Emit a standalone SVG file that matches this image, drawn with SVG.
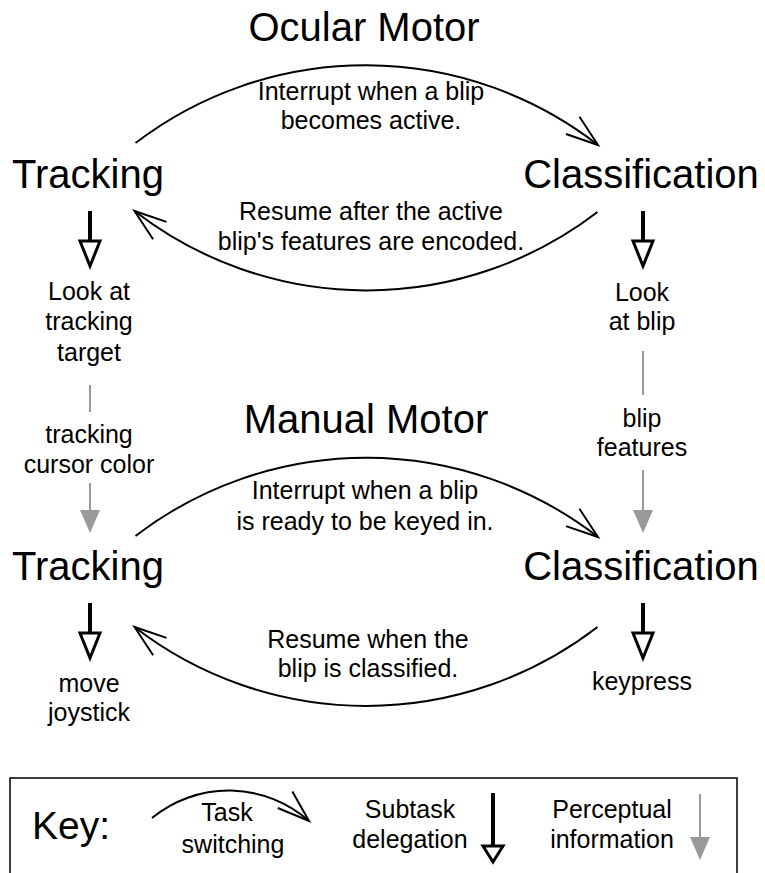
<svg xmlns="http://www.w3.org/2000/svg" width="765" height="873" viewBox="0 0 765 873">
<style>
text{font-family:"Liberation Sans",Arial,Helvetica,sans-serif;fill:#000;text-anchor:middle}
.big{font-size:40px}
.lbl{font-size:25px}
.sw{fill:none;stroke:#000;stroke-width:2}
.del{stroke:#000;stroke-width:4}
.per{stroke:#999;stroke-width:2}
</style>
<defs>
<marker id="chev" markerUnits="userSpaceOnUse" viewBox="-36 -14 40 28" refX="0" refY="0" markerWidth="40" markerHeight="28" orient="auto">
<path d="M-32,-11 L0,0 L-32,11" fill="none" stroke="#000" stroke-width="2"/>
</marker>
<marker id="tri" markerUnits="userSpaceOnUse" viewBox="-3 -13 32 26" refX="0" refY="0" markerWidth="32" markerHeight="26" orient="auto">
<path d="M0,-10 L25,0 L0,10 Z" fill="#fff" stroke="#000" stroke-width="3"/>
</marker>
<marker id="tris" markerUnits="userSpaceOnUse" viewBox="-3 -14 24 28" refX="0" refY="0" markerWidth="24" markerHeight="28" orient="auto">
<path d="M0,-10 L16,0 L0,10 Z" fill="#fff" stroke="#000" stroke-width="3"/>
</marker>
<marker id="gtri" markerUnits="userSpaceOnUse" viewBox="-1 -11 26 22" refX="0" refY="0" markerWidth="26" markerHeight="22" orient="auto">
<path d="M0,-10 L23,0 L0,10 Z" fill="#999"/>
</marker>
</defs>
<rect width="765" height="873" fill="#fff"/>

<g id="titles">
<text class="big" x="364" y="41">Ocular Motor</text>
<text class="big" x="366" y="433">Manual Motor</text>
</g>

<g id="ocular-tracking"><text class="big" x="88" y="188">Tracking</text></g>
<g id="ocular-classification"><text class="big" x="641" y="188">Classification</text></g>
<g id="look-target"><text class="lbl" x="89" y="300">Look at</text><text class="lbl" x="89" y="330">tracking</text><text class="lbl" x="89" y="361">target</text></g>
<g id="look-blip"><text class="lbl" x="642" y="301">Look</text><text class="lbl" x="642" y="330">at blip</text></g>
<g id="cursor-color"><text class="lbl" x="89" y="443">tracking</text><text class="lbl" x="89" y="473">cursor color</text></g>
<g id="blip-features"><text class="lbl" x="642" y="427">blip</text><text class="lbl" x="642" y="456">features</text></g>
<g id="manual-tracking"><text class="big" x="88" y="580">Tracking</text></g>
<g id="manual-classification"><text class="big" x="641" y="580">Classification</text></g>
<g id="move-joystick"><text class="lbl" x="89" y="692">move</text><text class="lbl" x="89" y="721">joystick</text></g>
<g id="keypress"><text class="lbl" x="642" y="690">keypress</text></g>

<g id="connectors">
<path class="sw" d="M135.5,143 A379,379 0 0 1 598,145" marker-end="url(#chev)"/>
<path class="sw" d="M597.5,212 A379,379 0 0 1 134.5,211" marker-end="url(#chev)"/>
<path class="sw" d="M135.5,536 A379,379 0 0 1 598,537" marker-end="url(#chev)"/>
<path class="sw" d="M597.5,627 A379,379 0 0 1 134.5,627" marker-end="url(#chev)"/>
<line class="del" x1="90" y1="211" x2="90" y2="241" marker-end="url(#tri)"/>
<line class="del" x1="643" y1="211" x2="643" y2="241" marker-end="url(#tri)"/>
<line class="del" x1="90" y1="603" x2="90" y2="633" marker-end="url(#tri)"/>
<line class="del" x1="643" y1="603" x2="643" y2="633" marker-end="url(#tri)"/>
<line class="per" x1="90" y1="385" x2="90" y2="412"/>
<line class="per" x1="90" y1="483" x2="90" y2="510" marker-end="url(#gtri)"/>
<line class="per" x1="643" y1="351" x2="643" y2="395"/>
<line class="per" x1="643" y1="470" x2="643" y2="510" marker-end="url(#gtri)"/>
</g>

<g id="edge-labels">
<text class="lbl" x="371" y="100">Interrupt when a blip</text>
<text class="lbl" x="371" y="129">becomes active.</text>
<text class="lbl" x="371" y="220">Resume after the active</text>
<text class="lbl" x="371" y="250">blip's features are encoded.</text>
<text class="lbl" x="365" y="499">Interrupt when a blip</text>
<text class="lbl" x="365" y="530">is ready to be keyed in.</text>
<text class="lbl" x="368" y="648">Resume when the</text>
<text class="lbl" x="368" y="677">blip is classified.</text>
</g>

<g id="key">
<rect x="10" y="778" width="727" height="110" fill="none" stroke="#000" stroke-width="1.5"/>
<text x="32" y="839" style="font-size:39px;text-anchor:start">Key:</text>
<path class="sw" d="M152,818 A121,121 0 0 1 309,821" marker-end="url(#chev)"/>
<text class="lbl" x="227" y="821">Task</text>
<text class="lbl" x="233" y="853">switching</text>
<text class="lbl" x="410" y="818">Subtask</text>
<text class="lbl" x="410" y="848">delegation</text>
<line class="del" x1="493" y1="793" x2="493" y2="846" marker-end="url(#tris)"/>
<text class="lbl" x="612" y="818">Perceptual</text>
<text class="lbl" x="612" y="848">information</text>
<line class="per" x1="700" y1="794" x2="700" y2="837" marker-end="url(#gtri)"/>
</g>
</svg>
